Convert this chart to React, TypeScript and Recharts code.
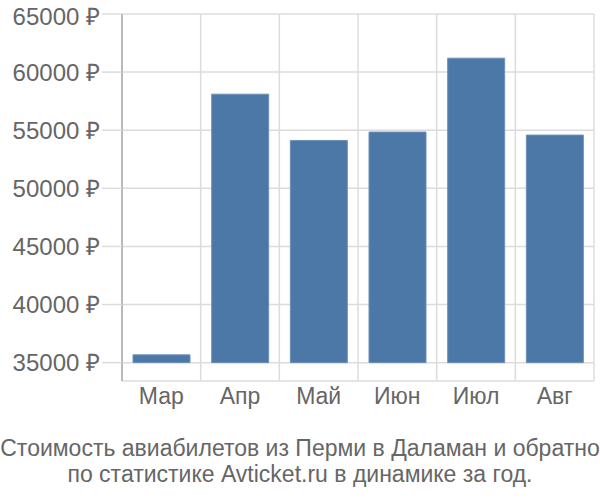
import React from 'react';
import { BarChart, Bar, XAxis, YAxis, CartesianGrid } from 'recharts';

const months = ['Мар', 'Апр', 'Май', 'Июн', 'Июл', 'Авг'];
const prices = [35670, 58100, 54120, 54840, 61200, 54580];
const yTicks = [35000, 40000, 45000, 50000, 55000, 60000, 65000];
const titleLines = [
  'Стоимость авиабилетов из Перми в Даламан и обратно',
  'по статистике Avticket.ru в динамике за год.'
];

const BASE = 35000;

const data = months.map((m, i) => ({ month: m, range: [BASE, prices[i]] }));

const FONT = '"Liberation Sans", Arial, sans-serif';

// vertical grid at category boundaries, not centres
const boundaryLines = ({ offset }: any) =>
  Array.from({ length: months.length + 1 }, (_, i) => offset.left + (i * offset.width) / months.length);

export default function App() {
  return (
    <div style={{ position: 'absolute', left: 0, top: 0, width: 600, height: 500, background: '#fff', fontFamily: FONT }}>
      <BarChart
        width={600}
        height={420}
        data={data}
        margin={{ top: 14, right: 6, left: 0, bottom: 0 }}
        barCategoryGap="14%"
      >
        <CartesianGrid stroke="#dcdcdc" strokeWidth={1.5} verticalCoordinatesGenerator={boundaryLines} />
        <XAxis
          dataKey="month"
          height={39}
          axisLine={false}
          tickLine={false}
          tickSize={0}
          tickMargin={7}
          tick={{ fill: '#666', fontSize: 23, fontFamily: FONT }}
        />
        <YAxis
          width={122}
          domain={[33420, 65000]}
          ticks={yTicks}
          allowDataOverflow
          tickFormatter={(v: number) => `${v} ₽`}
          axisLine={{ stroke: '#aaa', strokeWidth: 1.5 }}
          tickLine={{ stroke: '#dcdcdc', strokeWidth: 1.5 }}
          tickSize={20}
          tickMargin={2}
          tick={{ fill: '#666', fontSize: 24, fontFamily: FONT }}
        />
        <Bar dataKey="range" fill="#4c78a8" stroke="#6d90b8" strokeWidth={1} isAnimationActive={false} />
      </BarChart>
      <div
        style={{
          position: 'absolute',
          left: 0,
          top: 435,
          width: 600,
          textAlign: 'center',
          color: '#666',
          fontSize: 23,
          lineHeight: '26px',
          whiteSpace: 'nowrap'
        }}
      >
        {titleLines.map((t) => (
          <div key={t}>{t}</div>
        ))}
      </div>
    </div>
  );
}
